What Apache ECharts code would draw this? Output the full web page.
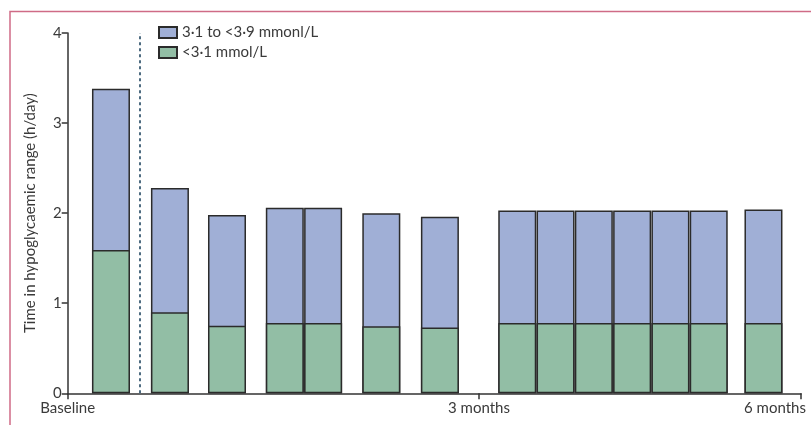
<!DOCTYPE html>
<html>
<head>
<meta charset="utf-8">
<script src="https://cdn.jsdelivr.net/npm/echarts@6/dist/echarts.min.js"></script>
<style>
  html, body { margin: 0; padding: 0; background: #ffffff; }
  #chart { width: 811px; height: 425px; }
</style>
</head>
<body>
<div id="chart"></div>
<script>
// Timeline position of each visit (in bar-width units from baseline)
const visitPositions = [1.13, 2.67, 4.16, 5.67, 6.67, 8.19, 9.72, 11.74, 12.74, 13.74, 14.74, 15.74, 16.74, 18.17];
// Total time below 3.9 mmol/L (h/day): top of each bar
const totalBelow39 = [3.38, 2.28, 1.98, 2.06, 2.06, 2.00, 1.96, 2.03, 2.03, 2.03, 2.03, 2.03, 2.03, 2.04];
// Time below 3.1 mmol/L (h/day): lower segment of each bar
const below31 = [1.59, 0.90, 0.75, 0.78, 0.78, 0.745, 0.73, 0.78, 0.78, 0.78, 0.78, 0.78, 0.78, 0.78];

const xTickValues = [0, 10.74, 19.15];
const xTickLabels = ['Baseline', '3 months', '6 months'];
const interventionStart = 1.89;

const seriesNames = ['3·1 to <3·9 mmonl/L', '<3·1 mmol/L'];
const FONT = 'Lato';
const TEXT = '#3a3a3a';
const AXIS = '#333333';

const chart = echarts.init(document.getElementById('chart'), null, { renderer: 'canvas' });

chart.setOption({
  animation: false,
  backgroundColor: '#ffffff',
  textStyle: { fontFamily: FONT, color: TEXT },
  grid: { left: 67.7, right: 10, top: 33, bottom: 31.7, containLabel: false },
  legend: {
    data: seriesNames,
    orient: 'vertical',
    left: 158,
    top: 24,
    padding: 0,
    itemWidth: 18,
    itemHeight: 11,
    itemGap: 3,
    selectedMode: false,
    textStyle: { fontFamily: FONT, fontSize: 15, lineHeight: 17, color: TEXT },
    icon: 'rect'
  },
  xAxis: {
    type: 'value',
    min: 0,
    max: 19.15,
    splitLine: { show: false },
    axisLine: { show: true, lineStyle: { color: AXIS, width: 1.5 } },
    axisTick: {
      show: true, inside: false, length: 6,
      customValues: xTickValues,
      lineStyle: { color: AXIS, width: 1.5 }
    },
    axisLabel: {
      show: true,
      customValues: xTickValues,
      margin: 7,
      fontFamily: FONT,
      fontSize: 15,
      color: TEXT,
      formatter: function (v) {
        const i = xTickValues.findIndex(t => Math.abs(t - v) < 1e-6);
        if (i === 2) return '{end|' + xTickLabels[i] + '}';
        return i >= 0 ? xTickLabels[i] : '';
      },
      rich: {
        end: { fontFamily: FONT, fontSize: 15, color: TEXT, padding: [0, 52, 0, 0] }
      }
    }
  },
  yAxis: {
    type: 'value',
    min: 0,
    max: 4,
    interval: 1,
    name: 'Time in hypoglycaemic range (h/day)',
    nameLocation: 'middle',
    nameGap: 30,
    nameTextStyle: { fontFamily: FONT, fontSize: 15, color: TEXT },
    splitLine: { show: false },
    axisLine: { show: true, lineStyle: { color: AXIS, width: 1.5 } },
    axisTick: { show: true, inside: false, length: 6, lineStyle: { color: AXIS, width: 1.5 } },
    axisLabel: { margin: 6, fontFamily: FONT, fontSize: 15, color: TEXT }
  },
  series: [
    {
      // full bar height (3.1 to <3.9 band sits above the lower segment)
      name: seriesNames[0],
      type: 'bar',
      barWidth: 38,
      barGap: '-100%',
      z: 2,
      data: visitPositions.map((x, i) => [x, totalBelow39[i]]),
      itemStyle: { color: '#a0afd6', borderColor: '#2b2b2b', borderWidth: 1.5 },
      markLine: {
        silent: true,
        symbol: ['none', 'none'],
        label: { show: false },
        lineStyle: { color: '#4d6b80', width: 2, type: [3, 3] },
        data: [{ xAxis: interventionStart }]
      }
    },
    {
      // <3.1 segment drawn over the bottom of each bar
      name: seriesNames[1],
      type: 'bar',
      barWidth: 38,
      barGap: '-100%',
      z: 3,
      data: visitPositions.map((x, i) => [x, below31[i]]),
      itemStyle: { color: '#92bea5', borderColor: '#2b2b2b', borderWidth: 1.5 }
    }
  ],
  graphic: [
    {
      type: 'polyline',
      silent: true,
      shape: { points: [[10, 425], [10, 11.5], [811, 11.5]] },
      style: { stroke: '#cf6b86', lineWidth: 1.5, fill: null }
    }
  ]
});
</script>
</body>
</html>
